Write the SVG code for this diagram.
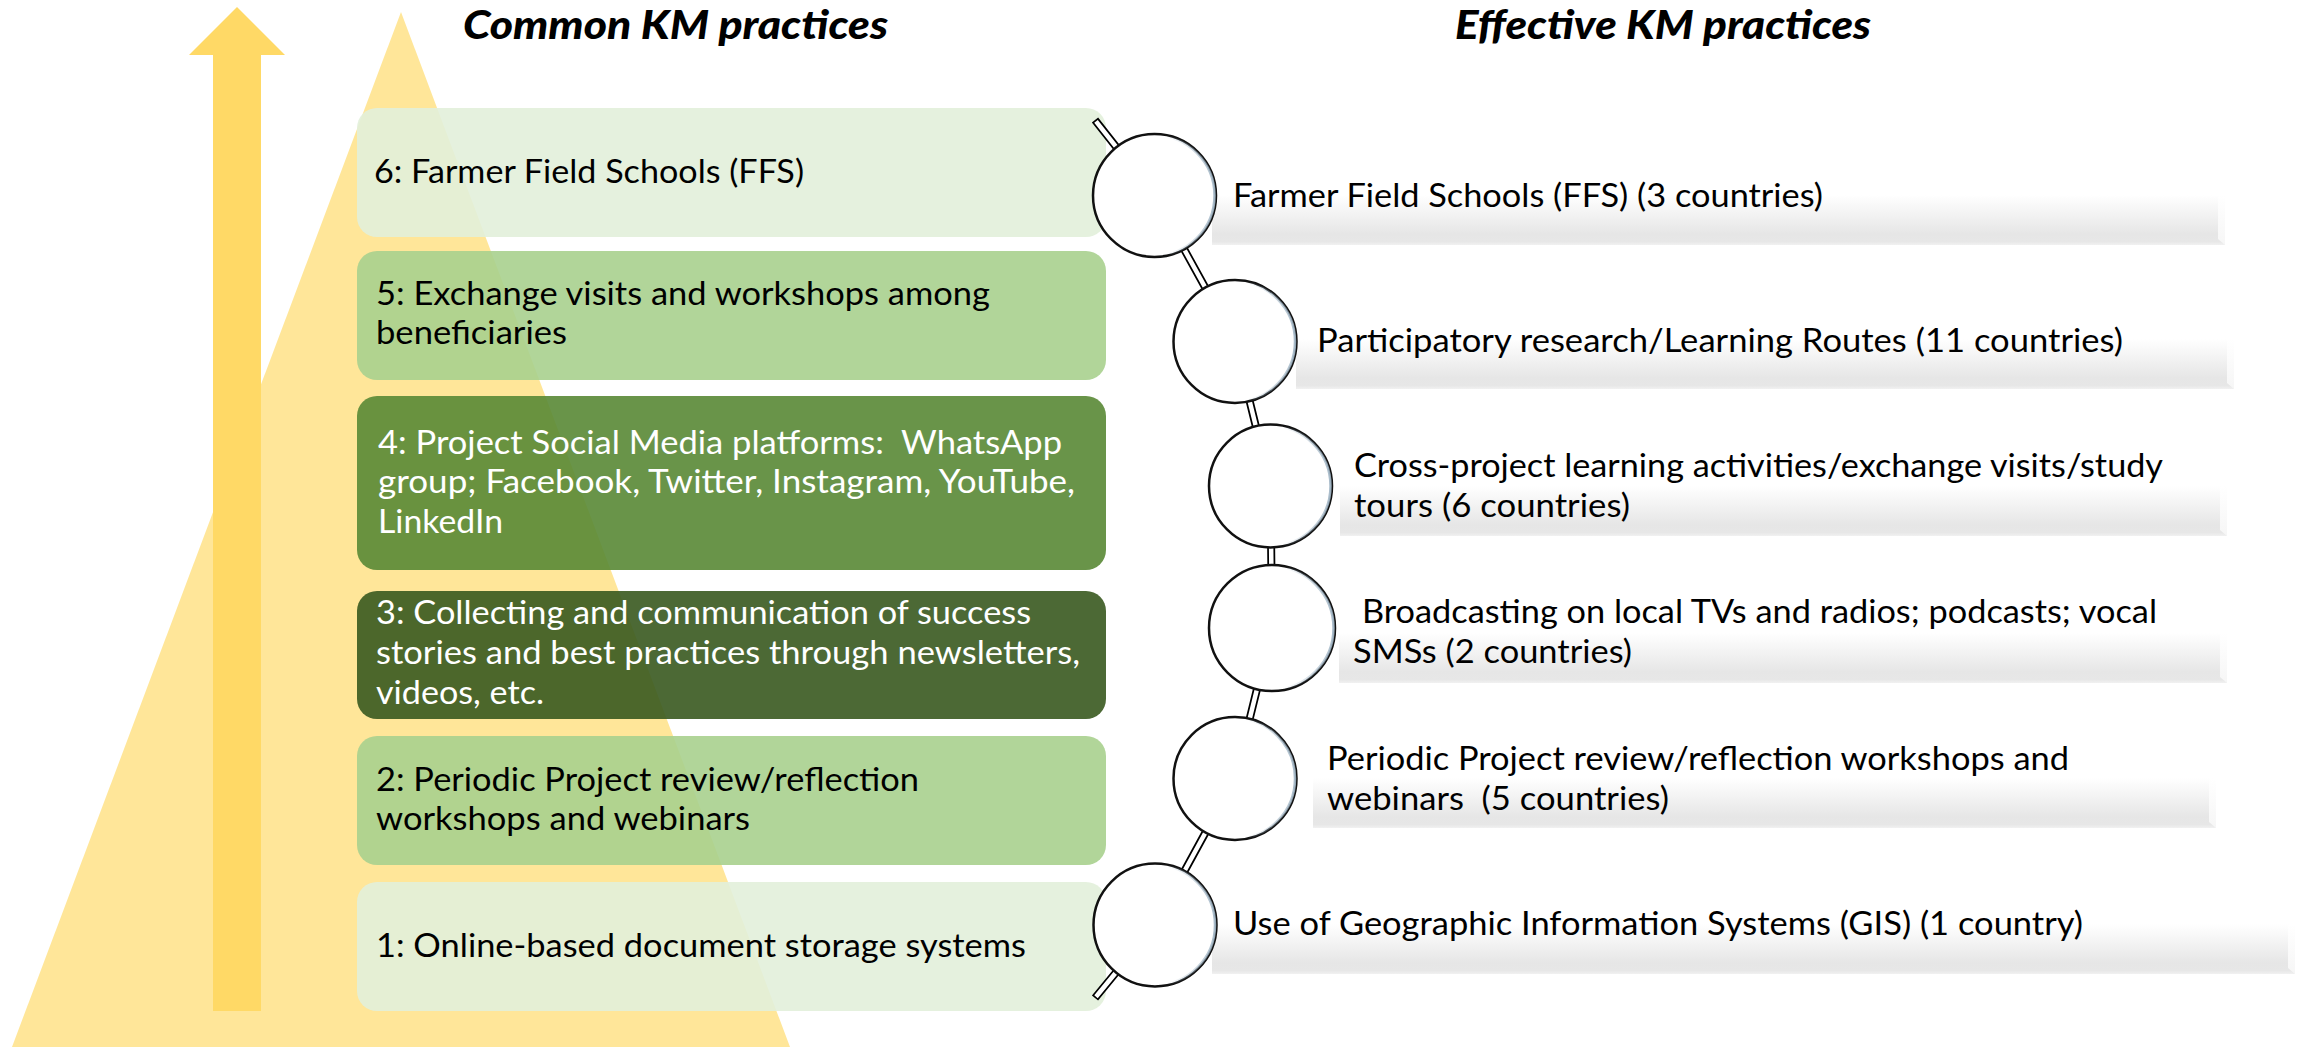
<svg xmlns="http://www.w3.org/2000/svg" width="2310" height="1047" viewBox="0 0 2310 1047">
<defs>
<linearGradient id="barGrad" x1="0" y1="0" x2="0" y2="1">
<stop offset="0" stop-color="#ffffff"/>
<stop offset="0.78" stop-color="#e6e6e6"/>
<stop offset="0.93" stop-color="#e7e7e7"/>
<stop offset="1" stop-color="#f1f1f1"/>
</linearGradient>
<linearGradient id="bevelGrad" x1="0" y1="0" x2="0" y2="1">
<stop offset="0" stop-color="#ffffff"/>
<stop offset="1" stop-color="#f6f6f6"/>
</linearGradient>
<linearGradient id="ringGrad" x1="0" y1="0" x2="1" y2="0">
<stop offset="0.6" stop-color="#9fb4c4" stop-opacity="0"/>
<stop offset="1" stop-color="#9fb4c4" stop-opacity="0.9"/>
</linearGradient>
</defs>
<style>
.tri{fill:#FFE699}
.arrow{fill:#FFD966}
.box{fill-opacity:0.9}
.g1{fill:#E2EFDA}
.g2{fill:#A9D08E}
.g3{fill:#598835}
.g4{fill:#39591F}
.lbl{font-family:Lato,'Liberation Sans','DejaVu Sans',sans-serif;font-size:32px}
.dk{fill:#000000}
.wt{fill:#ffffff}
.title{font-family:Lato,'Liberation Sans',sans-serif;font-size:39px;font-weight:900;font-style:italic;fill:#000000}
.cout{stroke:#000000;stroke-width:8;fill:none;stroke-linejoin:round}
.cin{stroke:#ffffff;stroke-width:4.5;fill:none;stroke-linejoin:round}
.circ{fill:#ffffff;stroke:#111111;stroke-width:2.5}
.ring{fill:none;stroke:url(#ringGrad);stroke-width:2.5}
.bar{fill:url(#barGrad)}
.bevel{fill:url(#bevelGrad)}
</style>

<g id="background">
<polygon class="tri" points="401,12 790,1047 12,1047"/>
<polygon class="arrow" points="237,7 285,55 261,55 261,1011 213,1011 213,55 189,55"/>
</g>

<g id="titles">
<text class="title" x="463" y="39" textLength="425" lengthAdjust="spacingAndGlyphs">Common KM practices</text>
<text class="title" x="1455" y="39" textLength="416" lengthAdjust="spacingAndGlyphs">Effective KM practices</text>
</g>

<g id="box6">
<rect class="box g1" x="357" y="108" width="749" height="129" rx="20"/>
<text class="lbl dk" x="374" y="183" textLength="430" lengthAdjust="spacingAndGlyphs">6: Farmer Field Schools (FFS)</text>
</g>
<g id="box5">
<rect class="box g2" x="357" y="251" width="749" height="129" rx="20"/>
<text class="lbl dk" x="376" y="305" textLength="614" lengthAdjust="spacingAndGlyphs">5: Exchange visits and workshops among</text>
<text class="lbl dk" x="376" y="344" textLength="191" lengthAdjust="spacingAndGlyphs">beneficiaries</text>
</g>
<g id="box4">
<rect class="box g3" x="357" y="396" width="749" height="174" rx="20"/>
<text class="lbl wt" x="378" y="454" textLength="684" lengthAdjust="spacingAndGlyphs" xml:space="preserve">4: Project Social Media platforms:  WhatsApp</text>
<text class="lbl wt" x="378" y="493" textLength="697" lengthAdjust="spacingAndGlyphs">group; Facebook, Twitter, Instagram, YouTube,</text>
<text class="lbl wt" x="378" y="533" textLength="125" lengthAdjust="spacingAndGlyphs">LinkedIn</text>
</g>
<g id="box3">
<rect class="box g4" x="357" y="591" width="749" height="128" rx="20"/>
<text class="lbl wt" x="376" y="624" textLength="655" lengthAdjust="spacingAndGlyphs">3: Collecting and communication of success</text>
<text class="lbl wt" x="376" y="664" textLength="704" lengthAdjust="spacingAndGlyphs">stories and best practices through newsletters,</text>
<text class="lbl wt" x="376" y="704" textLength="168" lengthAdjust="spacingAndGlyphs">videos, etc.</text>
</g>
<g id="box2">
<rect class="box g2" x="357" y="736" width="749" height="129" rx="20"/>
<text class="lbl dk" x="376" y="791" textLength="543" lengthAdjust="spacingAndGlyphs">2: Periodic Project review/reflection</text>
<text class="lbl dk" x="376" y="830" textLength="374" lengthAdjust="spacingAndGlyphs">workshops and webinars</text>
</g>
<g id="box1">
<rect class="box g1" x="357" y="882" width="749" height="129" rx="20"/>
<text class="lbl dk" x="376" y="957" textLength="650" lengthAdjust="spacingAndGlyphs">1: Online-based document storage systems</text>
</g>

<g id="bars">
<rect class="bar" x="1212" y="195" width="1013" height="50"/>
<polygon class="bevel" points="2218,195 2225,195 2225,245 2218,239"/>
<rect class="bar" x="1296" y="339" width="938" height="50"/>
<polygon class="bevel" points="2227,339 2234,339 2234,389 2227,383"/>
<rect class="bar" x="1340" y="486" width="887" height="50"/>
<polygon class="bevel" points="2220,486 2227,486 2227,536 2220,530"/>
<rect class="bar" x="1339" y="633" width="888" height="50"/>
<polygon class="bevel" points="2220,633 2227,633 2227,683 2220,677"/>
<rect class="bar" x="1313" y="778" width="903" height="50"/>
<polygon class="bevel" points="2209,778 2216,778 2216,828 2209,822"/>
<rect class="bar" x="1212" y="924" width="1083" height="50"/>
<polygon class="bevel" points="2288,924 2295,924 2295,974 2288,968"/>
</g>

<g id="connectors">
<path class="cout" d="M1095,120 L1154.5,195.5 L1235,341.5 L1270.5,486 L1272,628 L1235,778.5 L1155,925 L1095,998"/>
<path class="cin" d="M1096,121.3 L1154.5,195.5 L1235,341.5 L1270.5,486 L1272,628 L1235,778.5 L1155,925 L1096,996.8"/>
</g>

<g id="item1">
<circle class="circ" cx="1154.5" cy="195.5" r="61.5"/>
<circle class="ring" cx="1154.5" cy="195.5" r="60"/>
<text class="lbl dk" x="1233" y="207" textLength="590" lengthAdjust="spacingAndGlyphs">Farmer Field Schools (FFS) (3 countries)</text>
</g>
<g id="item2">
<circle class="circ" cx="1235" cy="341.5" r="61.5"/>
<circle class="ring" cx="1235" cy="341.5" r="60"/>
<text class="lbl dk" x="1317" y="352" textLength="806" lengthAdjust="spacingAndGlyphs">Participatory research/Learning Routes (11 countries)</text>
</g>
<g id="item3">
<circle class="circ" cx="1270.5" cy="486" r="61.5"/>
<circle class="ring" cx="1270.5" cy="486" r="60"/>
<text class="lbl dk" x="1354" y="477" textLength="809" lengthAdjust="spacingAndGlyphs">Cross-project learning activities/exchange visits/study</text>
<text class="lbl dk" x="1354" y="517" textLength="276" lengthAdjust="spacingAndGlyphs">tours (6 countries)</text>
</g>
<g id="item4">
<circle class="circ" cx="1272" cy="628" r="63"/>
<circle class="ring" cx="1272" cy="628" r="61.5"/>
<text class="lbl dk" x="1362" y="623" textLength="795" lengthAdjust="spacingAndGlyphs">Broadcasting on local TVs and radios; podcasts; vocal</text>
<text class="lbl dk" x="1353" y="663" textLength="279" lengthAdjust="spacingAndGlyphs">SMSs (2 countries)</text>
</g>
<g id="item5">
<circle class="circ" cx="1235" cy="778.5" r="61.5"/>
<circle class="ring" cx="1235" cy="778.5" r="60"/>
<text class="lbl dk" x="1327" y="770" textLength="742" lengthAdjust="spacingAndGlyphs">Periodic Project review/reflection workshops and</text>
<text class="lbl dk" x="1327" y="810" textLength="342" lengthAdjust="spacingAndGlyphs" xml:space="preserve">webinars  (5 countries)</text>
</g>
<g id="item6">
<circle class="circ" cx="1155" cy="925" r="61.5"/>
<circle class="ring" cx="1155" cy="925" r="60"/>
<text class="lbl dk" x="1233" y="935" textLength="850" lengthAdjust="spacingAndGlyphs">Use of Geographic Information Systems (GIS) (1 country)</text>
</g>
</svg>
